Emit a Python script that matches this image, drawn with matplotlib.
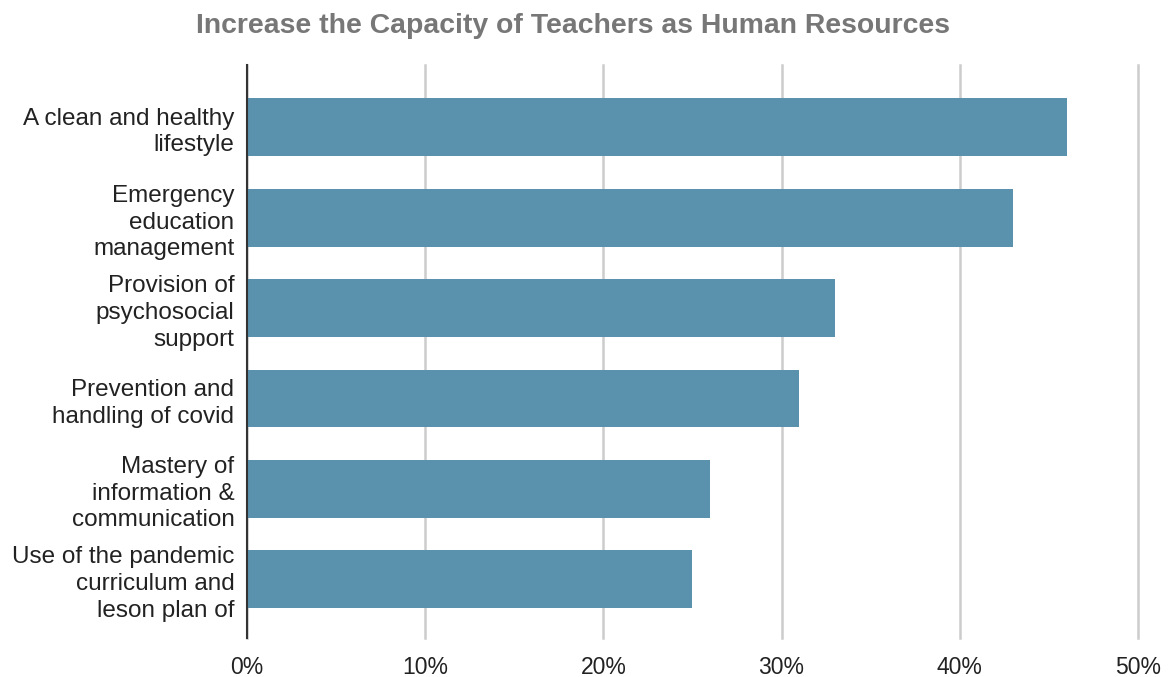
import numpy as np
import matplotlib
matplotlib.use("Agg")
import matplotlib.pyplot as plt

plt.rcParams["font.family"] = ["Liberation Sans", "DejaVu Sans"]

# Chart data.
categories = [
    "A clean and healthy\nlifestyle",
    "Emergency\neducation\nmanagement",
    "Provision of\npsychosocial\nsupport",
    "Prevention and\nhandling of covid",
    "Mastery of\ninformation &\ncommunication",
    "Use of the pandemic\ncurriculum and\nleson plan of",
]
values = [46, 43, 33, 31, 26, 25]
x_ticks = [0, 10, 20, 30, 40, 50]
x_tick_labels = ["0%", "10%", "20%", "30%", "40%", "50%"]
title = "Increase the Capacity of Teachers as Human Resources"

fig = plt.figure(figsize=(11.75, 6.77), dpi=100)
ax = fig.add_axes([0.2102, 0.0576, 0.9685 - 0.2102, 0.904 - 0.0576])

y = np.arange(len(categories))
ax.barh(y, values, height=0.64, color="#5a91ad", zorder=3)

ax.set_xlim(0, 50)
ax.set_ylim(5.65, -0.69)
ax.set_xticks(x_ticks)
ax.set_xticklabels(x_tick_labels, fontsize=16.5, color="#222222")
ax.set_yticks(y)
ax.set_yticklabels(categories, fontsize=17.5, color="#222222",
    linespacing=1.27)
ax.tick_params(axis="both", length=0)
ax.tick_params(axis="x", pad=13)
ax.tick_params(axis="y", pad=9)

ax.grid(axis="x", color="#cccccc", linewidth=1.8, zorder=0)
for gl in ax.get_xgridlines():
    gl.set_clip_on(False)
for side in ["top", "right", "bottom"]:
    ax.spines[side].set_visible(False)
ax.spines["left"].set_color("#333333")
ax.spines["left"].set_linewidth(1.5)
ax.spines["left"].set_zorder(4)

fig.text(0.488, 0.962, title, ha="center", va="center", fontsize=20.4,
    fontweight="bold", color="#777777")

fig.savefig("out.png", dpi=100)
